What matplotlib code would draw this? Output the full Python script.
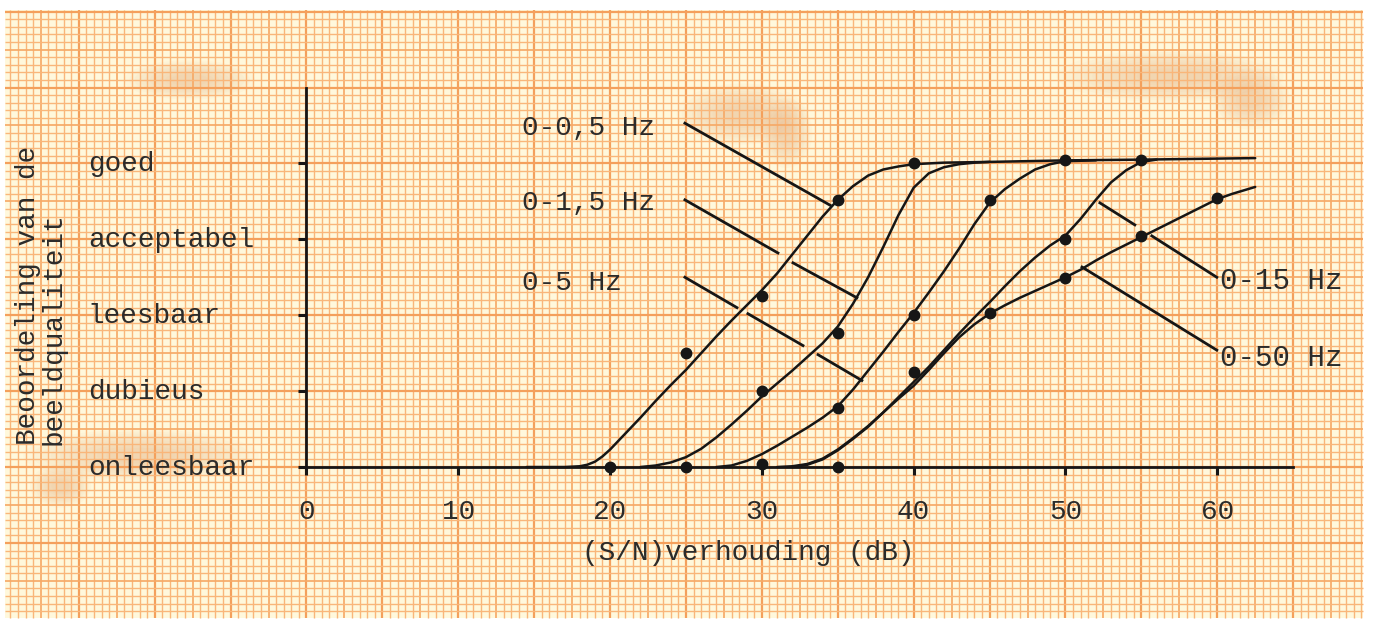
import numpy as np
import matplotlib
matplotlib.use("Agg")
import matplotlib.pyplot as plt
from matplotlib.patches import Rectangle, Ellipse

# typewriter look
plt.rcParams['font.family'] = ['Liberation Mono', 'DejaVu Sans Mono']

# -------------------------
# Data
# -------------------------
levels = ["onleesbaar", "dubieus", "leesbaar", "acceptabel", "goed"]
x_ticks = [0, 10, 20, 30, 40, 50, 60]

# 0-0,5 Hz
s05_x = [14.5, 17, 18, 18.5, 19, 19.5, 20, 21, 22, 23, 24, 25, 26, 27, 28,
         29, 30, 31, 32, 33, 34, 35, 36, 37, 38, 39, 40, 42, 45, 50, 55, 62.5]
s05_y = [0, 0, 0.01, 0.03, 0.07, 0.14, 0.23, 0.44, 0.65, 0.87, 1.08, 1.28,
         1.5, 1.72, 1.93, 2.13, 2.33, 2.55, 2.8, 3.05, 3.3, 3.52, 3.7, 3.84,
         3.92, 3.96, 3.99, 4.01, 4.02, 4.04, 4.05, 4.07]
s05_dx = [20, 25, 30, 35, 40]
s05_dy = [0, 1.5, 2.25, 3.52, 4.0]

# 0-1,5 Hz
s1_5_x = [22, 23, 24, 25, 26, 27, 28, 29, 30, 31, 32, 33, 34, 35, 36, 37, 38,
          39, 40, 41, 42, 43, 44, 45]
s1_5_y = [0, 0.02, 0.06, 0.13, 0.24, 0.39, 0.56, 0.74, 0.93, 1.1, 1.27, 1.45,
          1.63, 1.85, 2.15, 2.5, 2.9, 3.32, 3.68, 3.87, 3.95, 3.99, 4.01, 4.02]
s1_5_dx = [25, 30, 35]
s1_5_dy = [0, 1.0, 1.77]

# 0-5 Hz
s5_x = [27, 28, 29, 30, 31, 32, 33, 34, 35, 36, 37, 38, 39, 40, 41, 42, 43,
        44, 45, 46, 47, 48, 49, 50, 52]
s5_y = [0, 0.02, 0.08, 0.17, 0.28, 0.4, 0.52, 0.65, 0.8, 1.02, 1.27, 1.52,
        1.78, 2.03, 2.3, 2.58, 2.88, 3.2, 3.48, 3.66, 3.8, 3.92, 3.99, 4.03,
        4.04]
s5_dx = [30, 35, 40, 45, 50]
s5_dy = [0.04, 0.78, 2.0, 3.52, 4.05]

# 0-15 Hz
s15_x = [32, 33, 34, 35, 36, 37, 38, 39, 40, 41, 42, 43, 44, 45, 46, 47, 48,
         49, 50, 51, 52, 53, 54, 55, 56]
s15_y = [0, 0.03, 0.1, 0.22, 0.37, 0.53, 0.72, 0.92, 1.12, 1.32, 1.54, 1.76,
         1.97, 2.17, 2.38, 2.58, 2.76, 2.92, 3.05, 3.27, 3.52, 3.75, 3.91,
         4.02, 4.05]
s15_dx = [35, 40, 50, 55]
s15_dy = [0, 1.25, 3.0, 4.05]

# 0-50 Hz
s50_x = [31, 32, 33, 34, 35, 36, 37, 38, 39, 40, 41, 42, 43, 44, 45, 46, 47,
         48, 49, 50, 51, 52, 53, 54, 55, 56, 57, 58, 59, 60, 61, 62, 62.5]
s50_y = [0, 0.01, 0.04, 0.11, 0.23, 0.38, 0.54, 0.72, 0.9, 1.07, 1.28, 1.5,
         1.71, 1.88, 2.02, 2.13, 2.23, 2.32, 2.41, 2.5, 2.6, 2.72, 2.83, 2.93,
         3.03, 3.13, 3.23, 3.33, 3.43, 3.53, 3.6, 3.66, 3.69]
s50_dx = [45, 50, 55, 60]
s50_dy = [2.03, 2.49, 3.05, 3.55]

# leader lines (x0, y0, x1, y1), broken where they cross a curve
lead_05 = [(24.93, 4.53, 34.49, 3.45)]
lead_1_5 = [(24.93, 3.52, 31.06, 2.82), (32.05, 2.69, 36.26, 2.23)]
lead_5 = [(24.93, 2.50, 28.36, 2.10), (29.08, 2.02, 32.71, 1.60),
          (33.70, 1.48, 36.59, 1.14)]
lead_15 = [(52.27, 3.48, 54.57, 3.19), (55.69, 3.045, 59.97, 2.50)]
lead_50 = [(51.09, 2.635, 59.97, 1.54)]

# -------------------------
# Figure: one axes over the whole sheet of graph paper
# -------------------------
ink = "#161616"
type_ink = "#2b2b2b"

fig = plt.figure(figsize=(13.73, 6.23), dpi=100)
fig.patch.set_facecolor("white")
ax = fig.add_axes([0, 0, 1, 1])
ax.patch.set_visible(False)
ax.set_xlim(-20.19, 70.26)
ax.set_ylim(-2.055, 6.153)

# paper
px0, px1, py0, py1 = -19.86, 69.6, -1.99, 6.02
ax.add_patch(Rectangle((px0, py0), px1 - px0, py1 - py0,
                       facecolor="#fff8dc", edgecolor="none", zorder=0))

# brown stains
stains = [(-7.7, 5.1, 7.5, 0.45), (28.7, 4.65, 7.5, 0.7), (31.6, 4.4, 3.0, 0.8),
          (56.9, 5.15, 13.0, 0.6), (62.2, 4.85, 4.5, 0.7), (-10.9, 0.15, 13.5, 0.6),
          (-16.2, -0.25, 3.5, 0.5)]
for cx, cy, w, h in stains:
    for k in range(10):
        f = 1.15 - k * 0.09
        ax.add_patch(Ellipse((cx, cy), w * f, h * f, facecolor="#dc9158",
                             edgecolor="none", alpha=0.035, zorder=0.2))

# grid lines: 1 mm, 5 mm, 1 cm
for i in range(-39, 140):
    gx = i * 0.5
    if i % 10 == 0:
        c, lw = "#f4a05c", 1.6
    elif i % 5 == 0:
        c, lw = "#f6aa68", 1.25
    else:
        c, lw = "#f9b67a", 1.0
    ax.vlines(gx, py0, py1, colors=c, linewidth=lw, zorder=0.5)
for j in range(-19, 61):
    gy = j * 0.1
    if j % 10 == 0:
        c, lw = "#f4a05c", 1.6
    elif j % 5 == 0:
        c, lw = "#f6aa68", 1.25
    else:
        c, lw = "#f9b67a", 1.0
    ax.hlines(gy, px0, px1, colors=c, linewidth=lw, zorder=0.5)

# axes lines
for side in ["top", "right"]:
    ax.spines[side].set_visible(False)
ax.spines["left"].set_position(("data", 0))
ax.spines["bottom"].set_position(("data", 0))
ax.spines["left"].set_bounds(0, 5)
ax.spines["bottom"].set_bounds(0, 65)
for side in ["left", "bottom"]:
    ax.spines[side].set_linewidth(2.0)
    ax.spines[side].set_color(ink)
    ax.spines[side].set_zorder(3)

ax.set_xticks(x_ticks, labels=[str(v) for v in x_ticks])
ax.set_yticks(range(len(levels)))
ax.tick_params(axis="both", direction="out", length=6, width=2.2, color=ink)
ax.tick_params(axis="x", labelsize=20, pad=17, labelcolor=type_ink)
ax.tick_params(axis="y", labelleft=False)

# curves and measured points
series = [(s05_x, s05_y, s05_dx, s05_dy),
          (s1_5_x, s1_5_y, s1_5_dx, s1_5_dy),
          (s5_x, s5_y, s5_dx, s5_dy),
          (s15_x, s15_y, s15_dx, s15_dy),
          (s50_x, s50_y, s50_dx, s50_dy)]
for cx, cy, dx, dy in series:
    ax.plot(cx, cy, color=ink, linewidth=1.8, solid_capstyle="round",
            solid_joinstyle="round", zorder=4)
    ax.plot(dx, dy, "o", color=ink, markersize=7.5, zorder=5)

# leader lines
for segs in [lead_05, lead_1_5, lead_5, lead_15, lead_50]:
    for x0, y0, x1, y1 in segs:
        ax.plot([x0, x1], [y0, y1], color=ink, linewidth=2.0, zorder=4)

# labels
ax.text(14.2, 4.37, "0-0,5 Hz", fontsize=20, color=type_ink)
ax.text(14.2, 3.39, "0-1,5 Hz", fontsize=20, color=type_ink)
ax.text(14.2, 2.33, "0-5 Hz", fontsize=20, color=type_ink)
ax.text(60.2, 2.345, "0-15 Hz", fontsize=21, color=type_ink)
ax.text(60.2, 1.33, "0-50 Hz", fontsize=21, color=type_ink)

for i, name in enumerate(levels):
    ax.text(-14.4, i - 0.1, name, fontsize=20, color=type_ink, va="baseline")

ax.text(29.1, -1.225, "(S/N)verhouding (dB)", fontsize=20, color=type_ink,
        ha="center", va="baseline")
ax.text(-17.89, 0.29, "Beoordeling van de", fontsize=20, color=type_ink,
        rotation=90, rotation_mode="anchor", ha="left", va="baseline")
ax.text(-16.17, 0.29, "beeldqualiteit", fontsize=20, color=type_ink,
        rotation=90, rotation_mode="anchor", ha="left", va="baseline")

fig.savefig("out.png", dpi=100)
